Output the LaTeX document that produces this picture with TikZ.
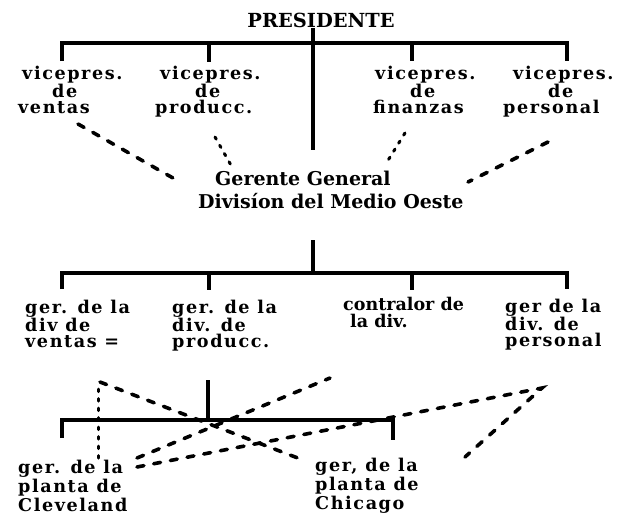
\documentclass[tikz,border=0pt]{standalone}
\usepackage{fontspec}
\setmainfont{DejaVu Serif}
\newfontfamily\labf{DejaVu Serif}[LetterSpace=9]
\newfontfamily\ggf{DejaVu Serif}
\begin{document}
\begin{tikzpicture}[x=1pt,y=-1pt,
  lab/.style={font=\labf\bfseries\fontsize{17.6}{16}\selectfont, align=left, anchor=north west, inner sep=0pt},
  solidline/.style={line width=4.2pt, line join=miter, line cap=butt},
  longdash/.style={line width=3.6pt, line cap=round, dash pattern=on 7pt off 10pt},
  shortdash/.style={line width=3pt, line cap=round, dash pattern=on 2.5pt off 7pt}]
\path[use as bounding box, fill=white] (0,0) rectangle (617,520);

% ---- nodes ----
\node[inner sep=0pt, font=\ggf\bfseries\fontsize{19.4}{22}\selectfont] (pres) at (321,20) {PRESIDENTE};

\node[lab] (vp1) at (18,65.5) {\hspace*{4pt}vicepres.\\\hspace*{34pt}de\\ventas};
\node[lab] (vp2) at (155,65.5) {\hspace*{5pt}vicepres.\\\hspace*{40pt}de\\producc.};
\node[lab] (vp3) at (373,65.5) {\hspace*{2pt}vicepres.\\\hspace*{37pt}de\\finanzas};
\node[lab] (vp4) at (503,65.5) {\hspace*{10pt}vicepres.\\\hspace*{45pt}de\\personal};

\node[inner sep=0pt, anchor=north west, align=left, font=\ggf\bfseries\fontsize{19}{23}\selectfont] (gg) at (198,170.5) {\hspace*{17pt}Gerente General\\Divisíon del Medio Oeste};

\node[lab] (g1) at (25,300) {ger. de la\\div de\\ventas =};
\node[lab] (g2) at (172,300) {ger. de la\\div. de\\producc.};
\node[lab, font=\ggf\bfseries\fontsize{17.5}{16.5}\selectfont] (g3) at (343,297) {contralor de\\\hspace*{7pt}la div.};
\node[lab] (g4) at (505,299) {ger de la\\div. de\\personal};

\node[lab, font=\labf\bfseries\fontsize{17.6}{19}\selectfont] (p1) at (18,460) {ger. de la\\planta de\\Cleveland};
\node[lab, font=\labf\bfseries\fontsize{17.6}{19}\selectfont] (p2) at (315,458) {ger, de la\\planta de\\Chicago};

% ---- tree coordinates ----
\coordinate (t1a) at (313,28);   \coordinate (t1b) at (313,150);
\coordinate (b1l) at (62,43);    \coordinate (b1r) at (567,43);
\coordinate (b1m1) at (209,43);  \coordinate (b1m2) at (412,43);
\coordinate (d1a) at (62,61);    \coordinate (d1b) at (209,62);
\coordinate (d1c) at (412,61);   \coordinate (d1d) at (567,61);

\coordinate (t2a) at (313,240);  \coordinate (t2b) at (313,273);
\coordinate (b2l) at (62,273);   \coordinate (b2r) at (567,273);
\coordinate (b2m1) at (209,273); \coordinate (b2m2) at (412,273);
\coordinate (d2a) at (62,289);   \coordinate (d2b) at (209,290);
\coordinate (d2c) at (412,290);  \coordinate (d2d) at (567,289);

\coordinate (t3a) at (208,380);  \coordinate (t3b) at (208,420);
\coordinate (b3l) at (62,420);   \coordinate (b3r) at (393,420);
\coordinate (d3a) at (62,438);   \coordinate (d3b) at (393,440);

% ---- solid tree ----
\draw[solidline] (t1a) -- (t1b);
\draw[solidline] (d1a) -- (b1l) -- (b1r) -- (d1d);
\draw[solidline] (b1m1) -- (d1b);
\draw[solidline] (b1m2) -- (d1c);

\draw[solidline] (t2a) -- (t2b);
\draw[solidline] (d2a) -- (b2l) -- (b2r) -- (d2d);
\draw[solidline] (b2m1) -- (d2b);
\draw[solidline] (b2m2) -- (d2c);

\draw[solidline] (t3a) -- (t3b);
\draw[solidline] (d3a) -- (b3l) -- (b3r) -- (d3b);

% ---- dashed relations (top) ----
\coordinate (x1a) at (78,124);   \coordinate (x1b) at (180,182);
\coordinate (x2a) at (215,137);  \coordinate (x2b) at (232,167);
\coordinate (x3a) at (405,133);  \coordinate (x3b) at (387,162);
\coordinate (x4a) at (548,142);  \coordinate (x4b) at (468,182);
\draw[longdash] (x1a) -- (x1b);
\draw[shortdash] (x2a) -- (x2b);
\draw[shortdash] (x3a) -- (x3b);
\draw[longdash] (x4a) -- (x4b);

% ---- dashed relations (bottom) ----
\coordinate (y1a) at (98,458);   \coordinate (y1b) at (98,384);
\coordinate (y1c) at (100,382);  \coordinate (y1d) at (303,460);
\coordinate (y2a) at (137,458);  \coordinate (y2b) at (330,378);
\coordinate (y3a) at (137,467);  \coordinate (y3b) at (542,388);
\coordinate (y3c) at (465,457);
\draw[shortdash] (y1a) -- (y1b);
\draw[longdash] (y1c) -- (y1d);
\draw[longdash] (y2a) -- (y2b);
\draw[longdash] (y3a) -- (y3b) -- (y3c);
\end{tikzpicture}
\end{document}
